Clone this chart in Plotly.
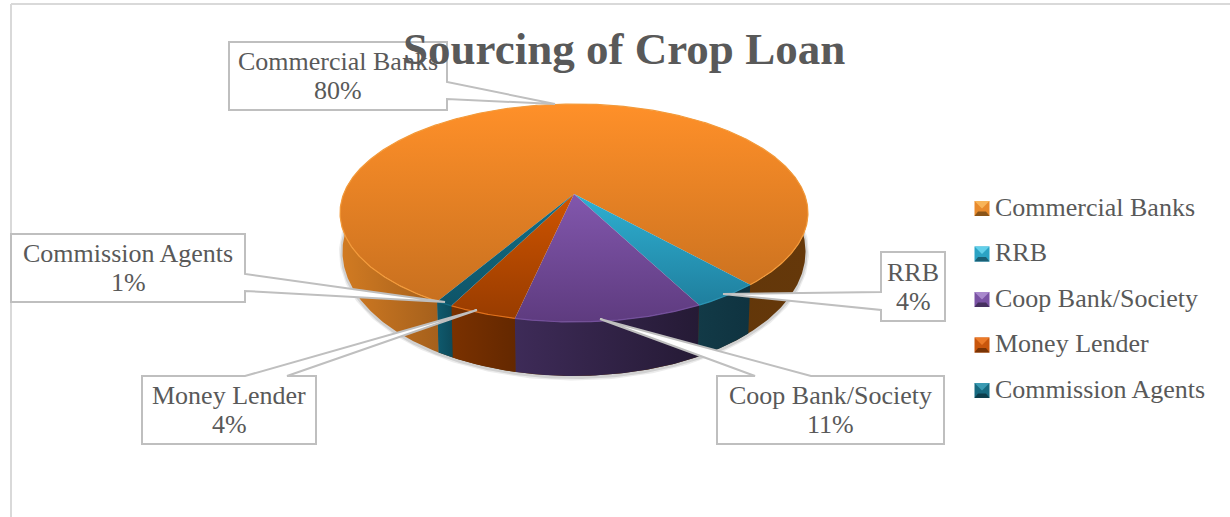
import numpy as np
import plotly.graph_objects as go

# Survey shares, in percent
categories = ["Commercial Banks", "RRB", "Coop Bank/Society", "Money Lender", "Commission Agents"]
shares = [80, 4, 11, 4, 1]
chart_title = "Sourcing of Crop Loan"

FONT = "Liberation Serif"
TEXT = "#595959"
W, H = 1230, 517

# Perspective of the disc: k is foreshortening, first slice starts about 210 deg clockwise from the back
CX, CY, TOP_A, TOP_B = 574.0, 194.0, 230.4, 105.7
BOT_CY, BOT_A, BOT_B = 230.0, 228.0, 120.6
K = 0.174
START = 210.3

# (top-face colours, wall colours) per category
TOP_COL = [("#FF9029", "#C8701F"), ("#2FB0D2", "#1F7F9E"), ("#8257AD", "#5E3B7F"),
           ("#CF5400", "#983C00"), ("#146F86", "#0E5468")]
WALL_COL = [("#D27B22", "#A5601C"), ("#123A47", "#0F3340"), ("#3E2B58", "#251A35"),
            ("#7A3100", "#642800"), ("#0F5A6E", "#0D4A5A")]
RIGHT_WALL = ("#5A3208", "#65380A")
RIM = ["#F39A3A", "#2A93B3", "#74509C", "#E0701A", "#156A80"]


def top_rim(deg):
    t = np.radians(deg)
    u, v = np.sin(t), -np.cos(t)
    d = 1 - K * v
    return CX + TOP_A * u / d, CY + TOP_B * v / d


def bottom_rim(deg):
    t = np.radians(deg)
    u, v = np.sin(t), -np.cos(t)
    d = 1 - K * v
    return CX + BOT_A * u / d, BOT_CY + BOT_B * v / d


def arc(a, b):
    return np.linspace(a, b, max(int(abs(b - a) * 2), 8))


def wall_trace(a, b, cols):
    th = arc(a, b)
    x1, y1 = top_rim(th)
    x2, y2 = bottom_rim(th[::-1])
    xs = np.r_[x1, x2, x1[0]]
    ys = np.r_[y1, y2, y1[0]]
    return go.Scatter(
        x=xs, y=ys, mode="lines", fill="toself", line=dict(width=0), showlegend=False, hoverinfo="skip",
        fillgradient=dict(type="horizontal", start=float(xs.min()), stop=float(xs.max()),
                          colorscale=[[0, cols[0]], [1, cols[1]]]),
    )


fig = go.Figure()

# Slice boundaries, clockwise from the first slice
edges = START + np.cumsum([0] + [s * 3.6 for s in shares])

# Soft shadow that hugs the base of the disc
sx, sy = bottom_rim(arc(0, 360))
for width, alpha in [(7, 0.10), (4, 0.16)]:
    fig.add_trace(go.Scatter(x=sx, y=sy + 1, mode="lines", showlegend=False, hoverinfo="skip",
                             line=dict(color=f"rgba(70,70,70,{alpha})", width=width)))

# Side walls: the large slice shows on both ends of the disc
fig.add_trace(wall_trace(edges[0], 285, WALL_COL[0]))
fig.add_trace(wall_trace(75, edges[5] - 360, RIGHT_WALL))
for i in range(1, 5):
    fig.add_trace(wall_trace(edges[i], edges[i + 1], WALL_COL[i]))

# Top faces
for i in range(5):
    th = arc(edges[i], edges[i + 1])
    rx, ry = top_rim(th)
    xs = np.r_[CX, rx, CX]
    ys = np.r_[CY, ry, CY]
    y0, y1 = (float(ys.min()), float(ys.max()))
    fig.add_trace(go.Scatter(
        x=xs, y=ys, mode="lines", fill="toself", line=dict(width=0), showlegend=False, hoverinfo="skip",
        fillgradient=dict(type="vertical", start=y0, stop=y1,
                          colorscale=[[0, TOP_COL[i][0]], [1, TOP_COL[i][1]]]),
    ))
    fig.add_trace(go.Scatter(x=rx, y=ry, mode="lines", showlegend=False, hoverinfo="skip",
                             line=dict(color=RIM[i], width=1.2)))

# Data-label callouts: box corners, the two tail roots and the tail tip
BORDER = "#BFBFBF"
callouts = [
    (0, (229, 42, 447, 110), "right", [(447, 82), (555, 104), (447, 99)]),
    (1, (881, 252, 945, 321), "left", [(881, 292), (723, 294), (881, 310)]),
    (2, (717, 376, 944, 444), "top", [(755, 376), (600, 319), (811, 376)]),
    (3, (142, 376, 316, 444), "top", [(245, 376), (477, 310), (287, 376)]),
    (4, (11, 234, 245, 302), "right", [(245, 274), (445, 302), (245, 291)]),
]
shapes = [
    dict(type="line", xref="x", yref="y", x0=11, x1=11, y0=4, y1=H, line=dict(color="#D9D9D9", width=2), layer="below"),
    dict(type="line", xref="x", yref="y", x0=11, x1=W, y0=4, y1=4, line=dict(color="#D9D9D9", width=2), layer="below"),
]
annotations = []
for i, (x0, y0, x1, y1), side, tail in callouts:
    if side == "right":
        pts = [(x0, y0), (x1, y0), tail[0], tail[1], tail[2], (x1, y1), (x0, y1)]
    elif side == "left":
        pts = [(x0, y0), (x1, y0), (x1, y1), (x0, y1), tail[2], tail[1], tail[0]]
    else:
        pts = [(x0, y0), tail[0], tail[1], tail[2], (x1, y0), (x1, y1), (x0, y1)]
    path = "M" + " L".join(f"{px},{py}" for px, py in pts) + " Z"
    shapes.append(dict(type="path", xref="x", yref="y", path=path, fillcolor="white",
                       line=dict(color=BORDER, width=2), layer="above"))
    cy = (y0 + y1) / 2
    # The name and the percentage are placed separately for a tighter line pitch
    for dy, label in [(-14.5, categories[i]), (14.5, f"{shares[i]}%")]:
        annotations.append(dict(
            x=(x0 + x1) / 2, y=cy + dy, xref="x", yref="y", showarrow=False, text=label,
            font=dict(family=FONT, size=26, color=TEXT),
        ))

# Legend column with bevelled swatches
BEVEL_LIGHT = ["#F8B458", "#62D0EA", "#A888CC", "#EC7A28", "#3A9AB2"]
BEVEL_BASE = ["#E88A2C", "#2BA3C4", "#7A52A4", "#C9560C", "#176A80"]
BEVEL_DARK = ["#8A5418", "#1A5F74", "#46305F", "#793305", "#0D3E4C"]
SW = 7.5
for i, name in enumerate(categories):
    yc = 208.5 + 45.5 * i
    xc = 982.0
    shapes.append(dict(type="rect", xref="x", yref="y", x0=xc - SW, x1=xc + SW, y0=yc - SW, y1=yc + SW,
                       fillcolor=BEVEL_BASE[i], line=dict(width=0), layer="above"))
    shapes.append(dict(type="path", xref="x", yref="y",
                       path=f"M{xc - SW},{yc - SW} L{xc + SW},{yc - SW} L{xc},{yc} Z",
                       fillcolor=BEVEL_LIGHT[i], line=dict(width=0), layer="above"))
    shapes.append(dict(type="path", xref="x", yref="y",
                       path=f"M{xc - SW},{yc + SW} L{xc + SW},{yc + SW} L{xc + 4},{yc + 3} L{xc - 4},{yc + 3} Z",
                       fillcolor=BEVEL_DARK[i], line=dict(width=0), layer="above"))
    annotations.append(dict(
        x=993, y=yc - 1.5, xref="x", yref="y", xanchor="left", showarrow=False, text=name,
        font=dict(family=FONT, size=26, color=TEXT),
    ))

# Title sits over the first callout
annotations.append(dict(
    x=624, y=49, xref="x", yref="y", showarrow=False, text=f"<b>{chart_title}</b>",
    font=dict(family=FONT, size=45, color=TEXT),
))

fig.update_layout(
    width=W, height=H, autosize=False, margin=dict(l=0, r=0, t=0, b=0),
    paper_bgcolor="white", plot_bgcolor="white", showlegend=False,
    xaxis=dict(range=[0, W], visible=False, fixedrange=True),
    yaxis=dict(range=[H, 0], visible=False, fixedrange=True),
    shapes=shapes, annotations=annotations,
)
fig.write_html("out.html")
